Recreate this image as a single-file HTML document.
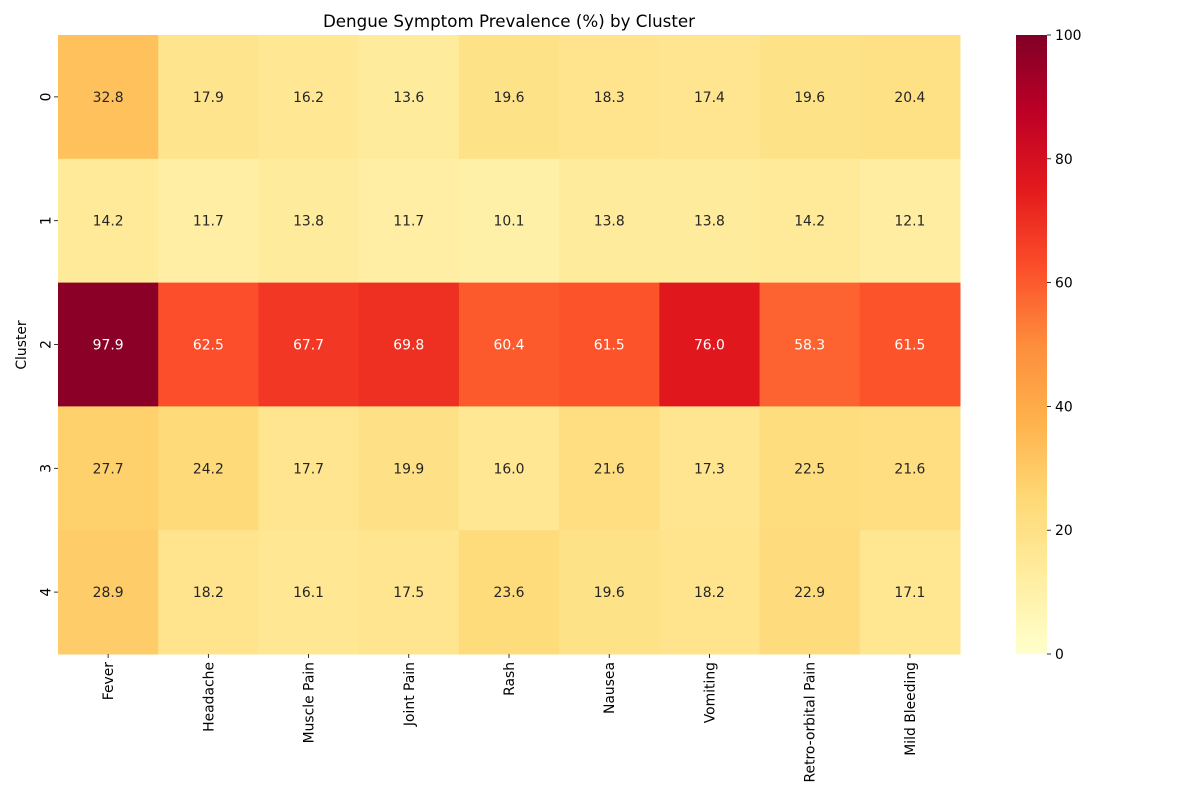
<!DOCTYPE html>
<html><head><meta charset="utf-8"><style>
body{margin:0;background:#fff;}
svg text{font-family:"DejaVu Sans","Liberation Sans",sans-serif;}
</style></head><body>
<svg id="chart" width="1200" height="800" xmlns="http://www.w3.org/2000/svg">
<text x="509" y="27" text-anchor="middle" font-size="16.7" fill="#000">Dengue Symptom Prevalence (%) by Cluster</text>
<text x="0" y="0" transform="translate(26,345) rotate(-90)" text-anchor="middle" font-size="13.9" fill="#000">Cluster</text>
</svg>
<script>
const symptoms=["Fever","Headache","Muscle Pain","Joint Pain","Rash","Nausea","Vomiting","Retro-orbital Pain","Mild Bleeding"];
const clusters=["0","1","2","3","4"];
const row0=[32.8,17.9,16.2,13.6,19.6,18.3,17.4,19.6,20.4];
const row1=[14.2,11.7,13.8,11.7,10.1,13.8,13.8,14.2,12.1];
const row2=[97.9,62.5,67.7,69.8,60.4,61.5,76.0,58.3,61.5];
const row3=[27.7,24.2,17.7,19.9,16.0,21.6,17.3,22.5,21.6];
const row4=[28.9,18.2,16.1,17.5,23.6,19.6,18.2,22.9,17.1];
const cbTicks=[0,20,40,60,80,100];
const rows=[row0,row1,row2,row3,row4];
const NS="http://www.w3.org/2000/svg";
const svg=document.getElementById('chart');
const L=58,T=35,R=960,B=654,VMIN=0,VMAX=100;
const FS=13.9;
const cw=(R-L)/symptoms.length, ch=(B-T)/clusters.length;
const xPos=i=>L+i*cw, yPos=j=>T+j*ch;
const stops=[[255,255,204],[255,237,160],[254,217,118],[254,178,76],[253,141,60],[252,78,42],[227,26,28],[189,0,38],[128,0,38]];
function cmap(v){let t=Math.max(0,Math.min(1,(v-VMIN)/(VMAX-VMIN)))*(stops.length-1);let i=Math.min(Math.floor(t),stops.length-2),f=t-i;
return stops[i].map((c,k)=>Math.round(c+(stops[i+1][k]-c)*f));}
function lum(c){const l=c.map(x=>{x/=255;return x<=0.03928?x/12.92:Math.pow((x+0.055)/1.055,2.4);});return 0.2126*l[0]+0.7152*l[1]+0.0722*l[2];}
function mk(tag,attrs,txt){const e=document.createElementNS(NS,tag);for(const k in attrs)e.setAttribute(k,attrs[k]);if(txt!==undefined)e.textContent=txt;svg.appendChild(e);return e;}
rows.forEach((row,j)=>row.forEach((v,i)=>{
 const c=cmap(v);
 const r=mk('rect',{x:xPos(i),y:yPos(j),width:cw+0.5,height:ch+0.5,fill:`rgb(${c})`});
 
 
 const t=mk('text',{x:xPos(i)+cw/2,y:yPos(j)+ch/2+5,'text-anchor':'middle','font-size':FS,fill:lum(c)>0.408?'#262626':'#fff'},v.toFixed(1));
 
 
}));
symptoms.forEach((s,i)=>{
 const x=xPos(i)+cw/2;
 const tk=mk('line',{x1:x,x2:x,y1:B,y2:B+4,stroke:'#000','stroke-width':0.8});
 
 
 const t=mk('text',{x:0,y:0,transform:`translate(${x+5},${B+8}) rotate(-90)`,'text-anchor':'end','font-size':FS,fill:'#000'},s);
 
 
});
clusters.forEach((c,j)=>{
 const y=yPos(j)+ch/2;
 const tk=mk('line',{x1:L-4,x2:L,y1:y,y2:y,stroke:'#000','stroke-width':0.8});
 
 
 const t=mk('text',{x:0,y:0,transform:`translate(${L-7.5},${y}) rotate(-90)`,'text-anchor':'middle','font-size':FS,fill:'#000'},c);
 
 
});
const CX=1016,CW=31;
const defs=document.createElementNS(NS,'defs');svg.appendChild(defs);
const g=document.createElementNS(NS,'linearGradient');g.setAttribute('id','cb');g.setAttribute('x1','0');g.setAttribute('y1','1');g.setAttribute('x2','0');g.setAttribute('y2','0');defs.appendChild(g);
stops.forEach((s,k)=>{const st=document.createElementNS(NS,'stop');st.setAttribute('offset',k/(stops.length-1));st.setAttribute('stop-color',`rgb(${s})`);g.appendChild(st);});
const cb=mk('rect',{x:CX,y:T,width:CW,height:B-T,fill:'url(#cb)'});


const cy=v=>B-(v-VMIN)/(VMAX-VMIN)*(B-T);
cbTicks.forEach(v=>{
 const tk=mk('line',{x1:CX+CW,x2:CX+CW+4,y1:cy(v),y2:cy(v),stroke:'#000','stroke-width':0.8});
 
 
 const t=mk('text',{x:CX+CW+8,y:cy(v)+5,'font-size':FS,fill:'#000'},String(v));
 
 
});
</script>
</body></html>
